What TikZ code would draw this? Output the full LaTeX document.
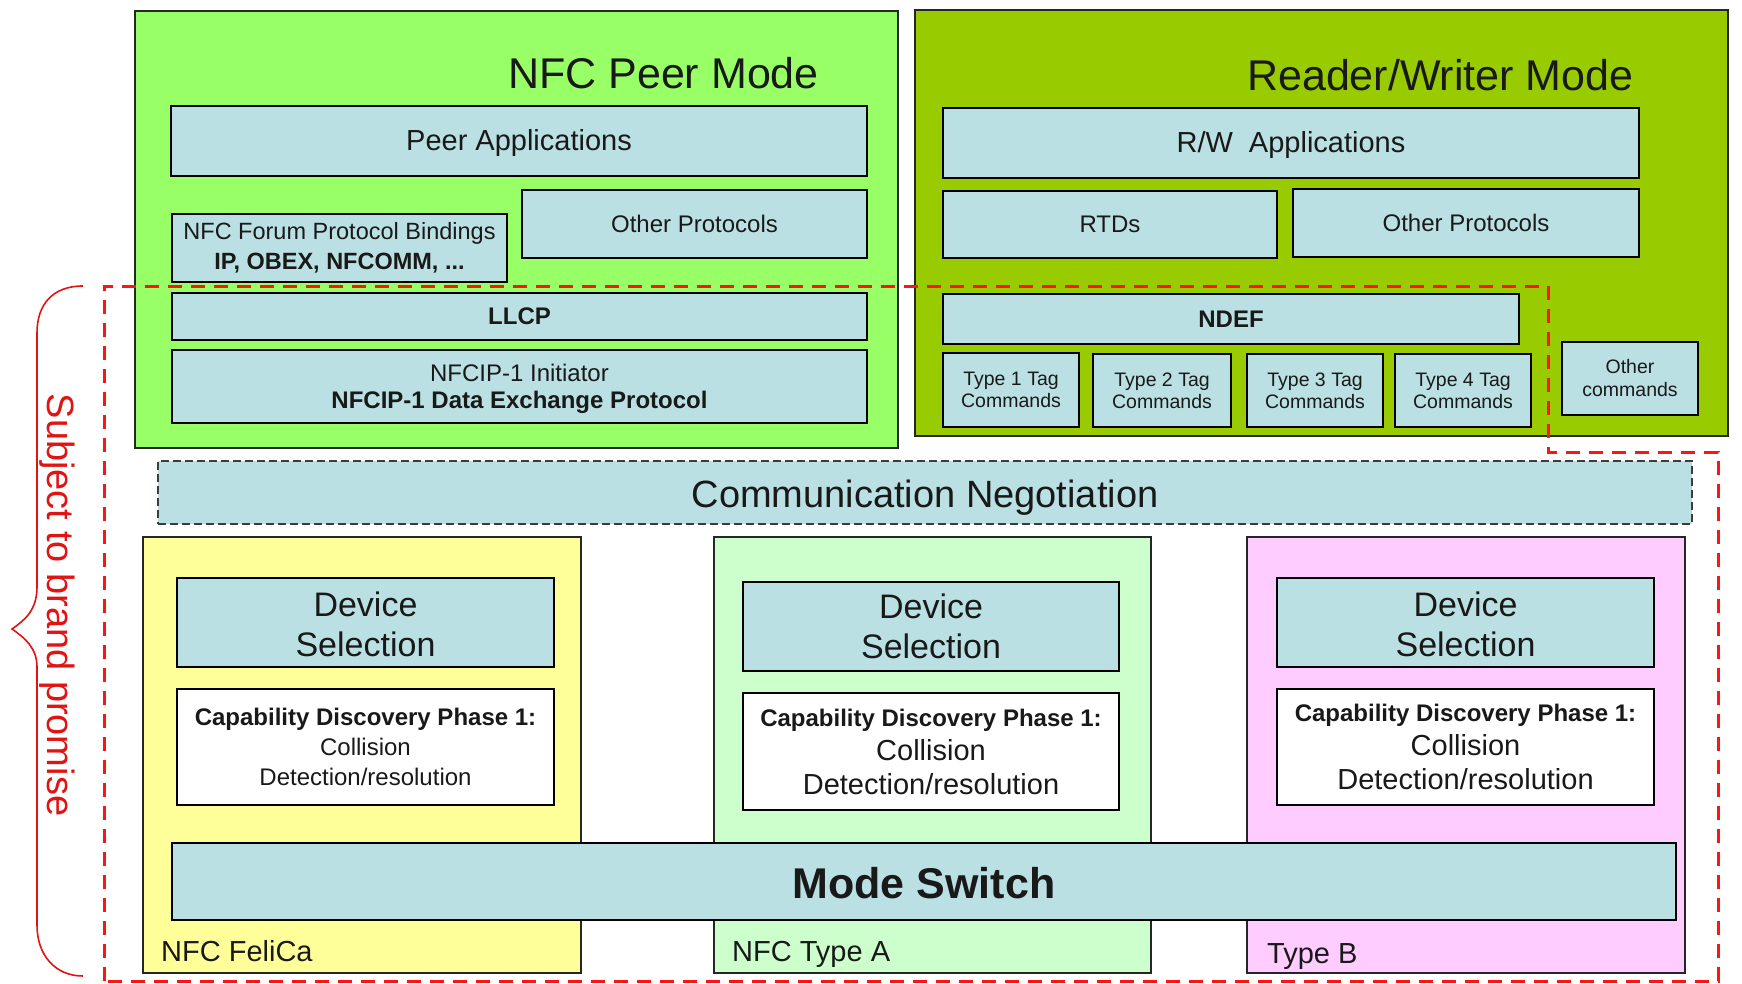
\documentclass[tikz,border=0pt]{standalone}
\usepackage{fontspec}
\setmainfont{Liberation Sans}
\usetikzlibrary{positioning}
\definecolor{peergreen}{RGB}{153,255,102}
\definecolor{rwgreen}{RGB}{153,204,0}
\definecolor{lblue}{RGB}{187,224,227}
\definecolor{yell}{RGB}{255,255,153}
\definecolor{lgreen}{RGB}{204,255,204}
\definecolor{lpink}{RGB}{255,204,255}
\definecolor{bred}{RGB}{255,20,20}
\definecolor{tred}{RGB}{225,20,20}
\definecolor{dgray}{RGB}{60,60,60}
\newcommand{\fs}[2]{\fontsize{#1}{#2}\selectfont}
\newcommand{\dn}[2]{\raisebox{-#1pt}[\height][\depth]{#2}}
\tikzset{
  outerbox/.style={draw=black!85, line width=2pt, inner sep=0pt, outer sep=0pt, anchor=north west},
  bluebox/.style={draw=black, fill=lblue, line width=2pt, inner sep=0pt, outer sep=0pt, anchor=north west, align=center, text=black!90},
  whitebox/.style={draw=black, fill=white, line width=2pt, inner sep=0pt, outer sep=0pt, anchor=north west, align=center, text=black!90},
  lbl/.style={anchor=base west, inner sep=0pt, text=black!90},
}
\begin{document}
\begin{tikzpicture}[x=1pt,y=-1pt]
\useasboundingbox[fill=white] (0,0) rectangle (1742,983);
% outer mode boxes
\node[outerbox, fill=peergreen, minimum width=763pt, minimum height=437pt] (peer) at (135,11) {};
\node[outerbox, fill=rwgreen, minimum width=813pt, minimum height=426pt] (rw) at (915,10) {};
\node[lbl, font=\fs{43}{50}] (peertitle) at (508,88) {NFC Peer Mode};
\node[lbl, font=\fs{43}{50}] (rwtitle) at (1247,90) {Reader/Writer Mode};
% peer inner
\node[bluebox, minimum width=696pt, minimum height=70pt, font=\fs{29}{34}] (peerapp) at (171,106) {\dn{2}{Peer Applications}};
\node[bluebox, minimum width=335pt, minimum height=68pt, font=\fs{23.5}{30}] (bind) at (172,214) {NFC Forum Protocol Bindings\\\textbf{IP, OBEX, NFCOMM, ...}};
\node[bluebox, minimum width=345pt, minimum height=68pt, font=\fs{24}{30}] (peerother) at (522,190) {Other Protocols};
\node[bluebox, minimum width=695pt, minimum height=47pt, font=\fs{24}{30}\bfseries] (llcp) at (172,293) {LLCP};
\node[bluebox, minimum width=695pt, minimum height=73pt, font=\fs{24}{27}] (nfcip) at (172,350) {\dn{2}{NFCIP-1 Initiator}\\\dn{2}{\textbf{NFCIP-1 Data Exchange Protocol}}};
% rw inner
\node[bluebox, minimum width=696pt, minimum height=70pt, font=\fs{29}{34}] (rwapp) at (943,108) {\dn{2}{R/W\hspace{0.55em}Applications}};
\node[bluebox, minimum width=334pt, minimum height=67pt, font=\fs{24}{30}] (rtds) at (943,191) {RTDs};
\node[bluebox, minimum width=346pt, minimum height=68pt, font=\fs{24}{30}] (rwother) at (1293,189) {Other Protocols};
\node[bluebox, minimum width=576pt, minimum height=50pt, font=\fs{24}{30}\bfseries] (ndef) at (943,294) {NDEF};
\node[bluebox, minimum width=136pt, minimum height=74pt, font=\fs{19.5}{22}] (t1) at (943,353) {Type 1 Tag\\Commands};
\node[bluebox, minimum width=138pt, minimum height=73pt, font=\fs{19.5}{22}] (t2) at (1093,354) {Type 2 Tag\\Commands};
\node[bluebox, minimum width=136pt, minimum height=73pt, font=\fs{19.5}{22}] (t3) at (1247,354) {Type 3 Tag\\Commands};
\node[bluebox, minimum width=136pt, minimum height=73pt, font=\fs{19.5}{22}] (t4) at (1395,354) {Type 4 Tag\\Commands};
\node[bluebox, minimum width=136pt, minimum height=73pt, font=\fs{19.5}{23}] (ocmd) at (1562,342) {Other\\commands};
% communication negotiation
\node[bluebox, draw=dgray, dash pattern=on 8pt off 4pt, minimum width=1534pt, minimum height=63pt, font=\fs{38}{44}] (commneg) at (158,461) {\dn{5}{Communication Negotiation}};
% technology boxes
\node[outerbox, fill=yell, minimum width=438pt, minimum height=436pt] (felica) at (143,537) {};
\node[outerbox, fill=lgreen, minimum width=437pt, minimum height=436pt] (typea) at (714,537) {};
\node[outerbox, fill=lpink, minimum width=438pt, minimum height=436pt] (typeb) at (1247,537) {};
\node[bluebox, minimum width=377pt, minimum height=89pt, font=\fs{34}{40}] (ds1) at (177,578) {\dn{2}{Device}\\\dn{2}{Selection}};
\node[bluebox, minimum width=376pt, minimum height=89pt, font=\fs{34}{40}] (ds2) at (743,582) {Device\\Selection};
\node[bluebox, minimum width=377pt, minimum height=89pt, font=\fs{34}{40}] (ds3) at (1277,578) {\dn{2}{Device}\\\dn{2}{Selection}};
\node[whitebox, minimum width=377pt, minimum height=116pt, font=\fs{24}{30}] (cd1) at (177,689) {\textbf{Capability Discovery Phase 1:}\\Collision\\Detection/resolution};
\node[whitebox, minimum width=376pt, minimum height=117pt, font=\fs{29}{34}] (cd2) at (743,693) {{\fs{24}{34}\textbf{Capability Discovery Phase 1:}}\\Collision\\Detection/resolution};
\node[whitebox, minimum width=377pt, minimum height=116pt, font=\fs{29}{34}] (cd3) at (1277,689) {{\fs{24}{34}\textbf{Capability Discovery Phase 1:}}\\Collision\\Detection/resolution};
\node[bluebox, minimum width=1504pt, minimum height=77pt, font=\fs{43}{50}\bfseries] (mode) at (172,843) {\dn{2}{Mode Switch}};
\node[lbl, font=\fs{29}{34}] (felicalbl) at (161,961) {NFC FeliCa};
\node[lbl, font=\fs{29}{34}] (typealbl) at (732,961) {NFC Type A};
\node[lbl, font=\fs{29}{34}] (typeblbl) at (1267,963) {Type B};
% brand promise boundary
\draw[bred, line width=3pt, dash pattern=on 14pt off 9pt] (104,981) -- (104,286) -- (1548,286) -- (1548,452) -- (1718,452) -- (1718,981) -- cycle;
\draw[tred, line width=1.6pt] (83,286) .. controls (52,286) and (37,305) .. (37,333) -- (37,587) .. controls (37,610) and (25,620) .. (12,629) .. controls (25,638) and (37,648) .. (37,667) -- (37,925) .. controls (37,955) and (55,976) .. (83,976);
\node[anchor=base, rotate=-90, inner sep=0pt, text=tred, font=\fs{38}{44}] (subject) at (47,605) {Subject to brand promise};
\end{tikzpicture}
\end{document}
